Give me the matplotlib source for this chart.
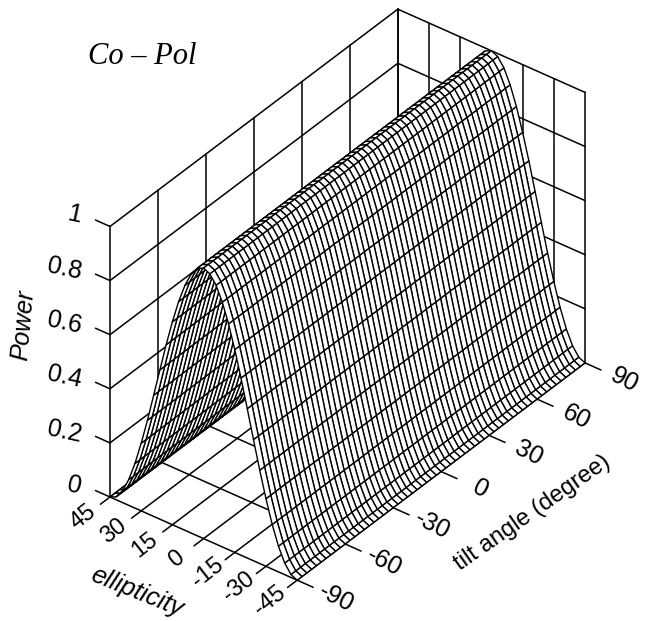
import numpy as np
import matplotlib
matplotlib.use("Agg")
import matplotlib.pyplot as plt
from mpl_toolkits.mplot3d import proj3d

tilt_ticks = [-90, -60, -30, 0, 30, 60, 90]
ell_ticks = [45, 30, 15, 0, -15, -30, -45]
power_ticks = [0, 0.2, 0.4, 0.6, 0.8, 1]
power_labels = ["0", "0.2", "0.4", "0.6", "0.8", "1"]
ell_labels = ["45", "30", "15", "0", "-15", "-30", "-45"]
tilt_labels = ["-90", "-60", "-30", "0", "30", "60", "90"]

ell_half = [0, 3, 6, 9, 12, 15, 18, 21, 24, 27, 30, 33, 36, 39, 42, 45]
power_half = [1.0, 0.989, 0.957, 0.905, 0.835, 0.75, 0.655, 0.552, 0.448,
              0.345, 0.25, 0.165, 0.095, 0.043, 0.011, 0.0]
tilt_step = 3

ell = np.array([-e for e in ell_half[:0:-1]] + ell_half, dtype=float)
prof = np.array(power_half[:0:-1] + power_half)
tilt = np.arange(-90, 91, tilt_step, dtype=float)
X, Y = np.meshgrid(tilt, ell)
Z = np.tile(prof[:, None], (1, len(tilt)))

W, H = 650, 621
fig = plt.figure(figsize=(W / 100, H / 100), dpi=100)
ax = fig.add_axes([0, 0, 1, 1], projection="3d", proj_type="ortho")
ax.set_box_aspect((473, 236, 332))
ax.view_init(elev=35.4, azim=-142.5)
ax.set_xlim(-90, 90); ax.set_ylim(-45, 45); ax.set_zlim(0, 1)
ax.set_axis_off()


def proj(x, y, z):
    a, b, _ = proj3d.proj_transform(x, y, z, ax.get_proj())
    return a, b


fig.canvas.draw()
pa = ax.transData.transform(proj(-90, 45, 0))
pb = ax.transData.transform(proj(90, -45, 0))
scale = (585 - 110) / (pb[0] - pa[0])
pos = ax.get_position()
w_px = pos.width * W * scale
h_px = pos.height * H * scale
cx0 = pos.x0 * W; cy0 = pos.y0 * H
nx = 110 - (pa[0] - cx0) * scale
ny = (H - 497) - (pa[1] - cy0) * scale
ax.set_position([nx / W, ny / H, w_px / W, h_px / H])
fig.canvas.draw()

k = dict(color="black", lw=1.1, solid_capstyle="round", zorder=1)


def seg(a, b):
    ax.plot([a[0], b[0]], [a[1], b[1]], [a[2], b[2]], **k)


for e in ell_ticks:
    seg((-96, e, 0), (90, e, 0))
    seg((90, e, 0), (90, e, 1))
for t in tilt_ticks:
    seg((t, -52.7, 0), (t, 45, 0))
    seg((t, 45, 0), (t, 45, 1))
for p in power_ticks:
    seg((-90, 52, p), (-90, 45, p))
    seg((-90, 45, p), (90, 45, p))
    seg((90, 45, p), (90, -45, p))

ax.plot_surface(X, Y, Z, rstride=1, cstride=1, color="white", edgecolor="black",
                linewidth=1.0, shade=False, antialiased=True, zorder=5)

sans = "Liberation Sans"


def label3d(x, y, z, s, **kw):
    a, b = proj(x, y, z)
    ax.text2D(a, b, s, transform=ax.transData, family=sans, zorder=10, clip_on=False, **kw)


for e, s in zip(ell_ticks, ell_labels):
    label3d(-107, e, 0, s, fontsize=17, rotation=38, ha="center", va="center")
for t, s in zip(tilt_ticks, tilt_labels):
    label3d(t, -64, 0, s, fontsize=18, rotation=-27, ha="center", va="center")
for p, s in zip(power_ticks, power_labels):
    label3d(-90, 57.5, p, s, fontsize=18, rotation=-12, ha="right", va="center")

fig.text(137 / W, 1 - 592 / H, "ellipticity", fontsize=18.5, family=sans, style="italic",
         rotation=-22, ha="center", va="center")
fig.text(532 / W, 1 - 513 / H, "tilt angle (degree)", fontsize=17, family=sans,
         rotation=35, ha="center", va="center")
fig.text(23 / W, 1 - 325 / H, "Power", fontsize=18, family=sans, style="italic",
         rotation=85, ha="center", va="center")
fig.text(142.5 / W, 1 - 57 / H, "Co – Pol", fontsize=22, family="Liberation Serif",
         style="italic", ha="center", va="center")

fig.savefig("out.png", dpi=100, facecolor="white")
